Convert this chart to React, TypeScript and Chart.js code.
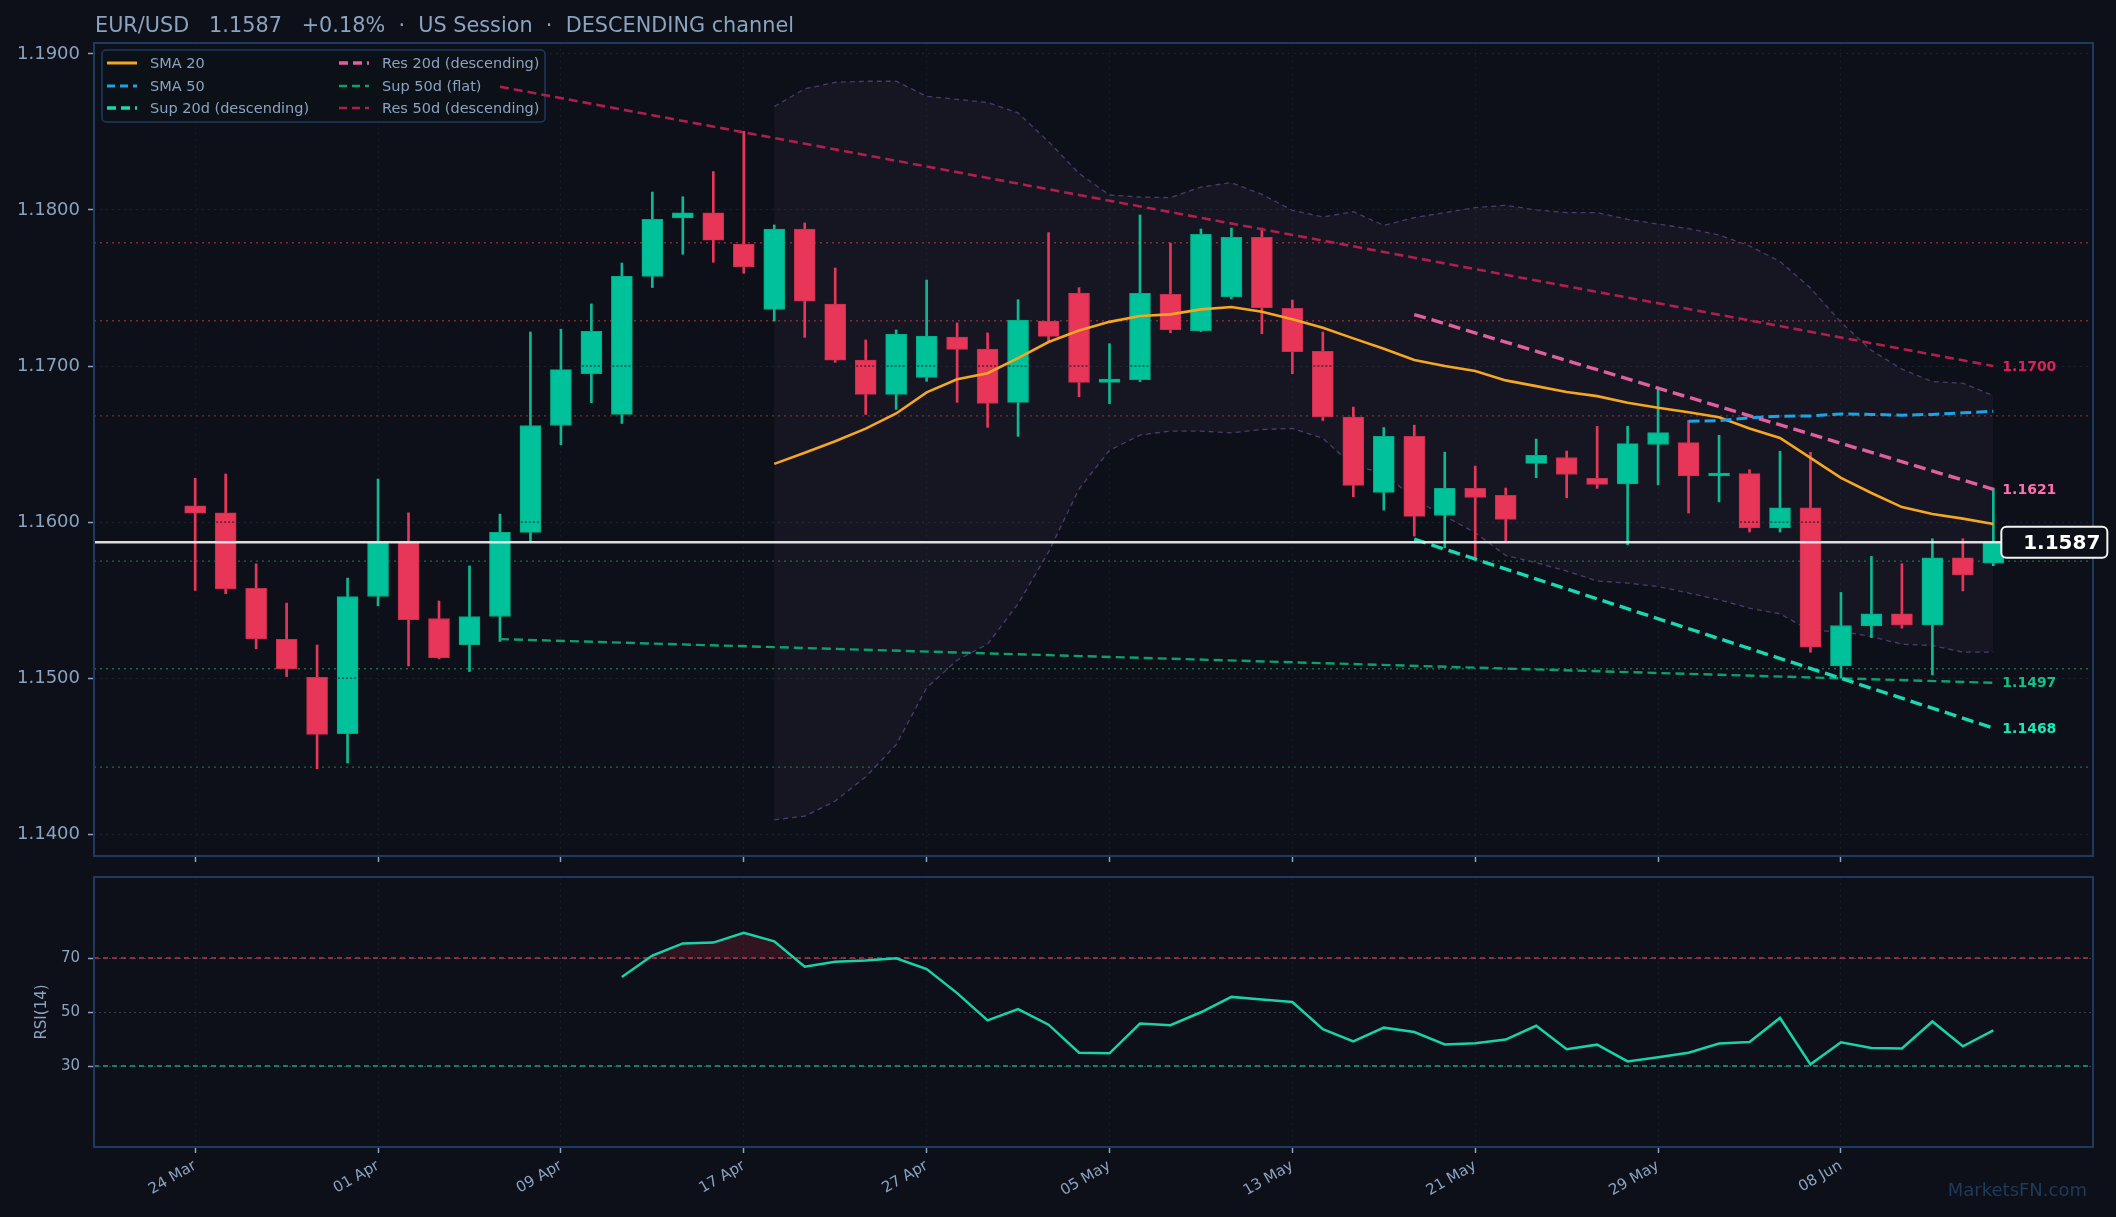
import { useEffect, useRef } from "react"
import { Chart, registerables } from "chart.js"

Chart.register(...registerables)
Chart.defaults.font.family = '"DejaVu Sans", sans-serif'

const BG = "#0d1018"
const TEXT = "#8aa3c0"
const FRAME = "#1e3a5f"
const UP = "#00c29a"
const DOWN = "#e83658"
const SMA20_C = "#f5a623"
const SMA50_C = "#1aa3e8"
const RES20_C = "#e0609e"
const SUP20_C = "#19d9b0"
const RES50_C = "#b01e4e"
const SUP50_C = "#0e9f6e"
const BAND_C = "#4a3a6c"
const RSI_C = "#19d3a6"

// daily candles, index 0 = 24 Mar
const opens = [
  1.16104, 1.16059, 1.15575, 1.15248, 1.15005, 1.14644, 1.15523, 1.15873, 1.15382, 1.15214,
  1.15395, 1.15934, 1.16619, 1.16951, 1.1669, 1.17574, 1.17949, 1.17981, 1.17782, 1.17363,
  1.17878, 1.17397, 1.17038, 1.16818, 1.16927, 1.17186, 1.17109, 1.16767, 1.17288, 1.17468,
  1.16895, 1.16912, 1.17459, 1.17226, 1.17444, 1.17824, 1.17369, 1.17094, 1.16673, 1.1619,
  1.16549, 1.16042, 1.16216, 1.16171, 1.16376, 1.16414, 1.1628, 1.16244, 1.16497, 1.16509,
  1.16295, 1.1631, 1.15962, 1.16092, 1.15078, 1.15335, 1.15412, 1.15341, 1.15771, 1.15737,
]
const highs = [
  1.16281, 1.16308, 1.15732, 1.15481, 1.15212, 1.15641, 1.16276, 1.16059, 1.15494, 1.15719,
  1.16051, 1.17218, 1.17236, 1.17398, 1.1766, 1.18115, 1.18085, 1.18246, 1.18504, 1.17904,
  1.17917, 1.17628, 1.17167, 1.17231, 1.17551, 1.17276, 1.17212, 1.17425, 1.17855, 1.17502,
  1.17143, 1.17968, 1.17788, 1.17878, 1.17884, 1.17884, 1.17423, 1.17218, 1.16737, 1.16606,
  1.16621, 1.16448, 1.16359, 1.16218, 1.16532, 1.16455, 1.16613, 1.16614, 1.16856, 1.16651,
  1.16556, 1.16336, 1.16454, 1.16447, 1.15549, 1.1578, 1.15733, 1.15893, 1.15893, 1.16218,
]
const lows = [
  1.15562, 1.15541, 1.15188, 1.1501, 1.14419, 1.14456, 1.15463, 1.15078, 1.15123, 1.15042,
  1.15235, 1.15876, 1.16496, 1.16765, 1.16632, 1.17503, 1.17716, 1.17665, 1.17594, 1.17288,
  1.17184, 1.17024, 1.1669, 1.16722, 1.16902, 1.16767, 1.16607, 1.16549, 1.17162, 1.16803,
  1.16759, 1.169, 1.17213, 1.1722, 1.17431, 1.17207, 1.16951, 1.16651, 1.16162, 1.16077,
  1.1591, 1.15835, 1.15771, 1.15878, 1.16284, 1.16156, 1.16216, 1.15855, 1.16238, 1.16058,
  1.16129, 1.15936, 1.15936, 1.15166, 1.14999, 1.1526, 1.1532, 1.1502, 1.15559, 1.1572,
]
const closes = [
  1.16057, 1.15573, 1.15253, 1.1506, 1.14639, 1.15523, 1.15873, 1.15374, 1.15131, 1.15395,
  1.15934, 1.16619, 1.16977, 1.17223, 1.17574, 1.1794, 1.17981, 1.17806, 1.17635, 1.17878,
  1.17415, 1.17038, 1.16818, 1.17205, 1.17192, 1.17107, 1.16761, 1.17295, 1.1719, 1.16895,
  1.16917, 1.17465, 1.17233, 1.17844, 1.17824, 1.17374, 1.17092, 1.16675, 1.16235, 1.16549,
  1.16036, 1.16216, 1.16158, 1.16017, 1.16427, 1.16305, 1.16241, 1.16503, 1.16574, 1.16295,
  1.1631, 1.15962, 1.16092, 1.15198, 1.15337, 1.15412, 1.15341, 1.15771, 1.15662, 1.1587,
]

const tickPositions = [0, 6, 12, 18, 24, 30, 36, 42, 48, 54]
const tickLabels = ["24 Mar", "01 Apr", "09 Apr", "17 Apr", "27 Apr", "05 May", "13 May", "21 May", "29 May", "08 Jun"]
const priceTicks = [1.14, 1.15, 1.16, 1.17, 1.18, 1.19]

const resistanceLevels = [1.1779, 1.1729, 1.1668]
const supportLevels = [1.1575, 1.1506, 1.1443]
const lastPrice = 1.1587

// Bollinger band (20) from index 19
const bandStart = 19
const bbUpper = [
  1.18663, 1.18776, 1.18818, 1.18825, 1.18825, 1.18728, 1.18709, 1.18689, 1.18622, 1.18438,
  1.18234, 1.18096, 1.18083, 1.18079, 1.18147, 1.18175, 1.181, 1.17998, 1.17955, 1.17989,
  1.17901, 1.17951, 1.17983, 1.18015, 1.1803, 1.18, 1.17983, 1.17983, 1.1794, 1.1791,
  1.1788, 1.1784, 1.1777, 1.1767, 1.175, 1.1728, 1.171, 1.1698, 1.169, 1.1689, 1.1681,
]
const bbLower = [
  1.14092, 1.14115, 1.14212, 1.14367, 1.14573, 1.14938, 1.15115, 1.15218, 1.15476, 1.15808,
  1.16212, 1.1646, 1.16557, 1.16583, 1.16583, 1.16572, 1.16593, 1.166, 1.16536, 1.16359,
  1.16316, 1.16145, 1.16038, 1.15931, 1.15786, 1.15739, 1.15686, 1.15622, 1.15609, 1.15587,
  1.15545, 1.15502, 1.15448, 1.15412, 1.15303, 1.15299, 1.15266, 1.15217, 1.15209, 1.15166, 1.15166,
]

const sma20Start = 19
const sma20 = [
  1.16373, 1.16444, 1.16518, 1.16599, 1.16696, 1.16831, 1.16915, 1.16954, 1.17051, 1.17154,
  1.17228, 1.17283, 1.17321, 1.17331, 1.17363, 1.17378, 1.17348, 1.17299, 1.17245, 1.17177,
  1.17111, 1.17038, 1.17, 1.16968, 1.16908, 1.16871, 1.16833, 1.16807, 1.16764, 1.16732,
  1.16704, 1.16672, 1.16599, 1.16539, 1.16411, 1.16283, 1.16186, 1.16096, 1.16052, 1.16022, 1.15987,
]
const sma50Start = 49
const sma50 = [1.16646, 1.1665, 1.16668, 1.16678, 1.1668, 1.16693, 1.1669, 1.16685, 1.1669, 1.167, 1.1671]

// channel lines: [index, price]
const res50d = [[10, 1.1879], [59, 1.17]]
const sup50d = [[10, 1.1525], [59, 1.1497]]
const res20d = [[40, 1.1733], [59, 1.1621]]
const sup20d = [[40, 1.1589], [59, 1.1468]]

const rsiStart = 14
const rsi = [
  63.0, 70.9, 75.4, 75.7, 79.3, 76.2, 66.8, 68.6, 69.1, 69.9,
  65.9, 57.0, 46.9, 51.1, 45.3, 34.9, 34.7, 45.7, 45.1, 49.9,
  55.6, 54.6, 53.7, 43.6, 39.1, 44.2, 42.6, 38.0, 38.4, 39.8,
  44.9, 36.2, 37.9, 31.7, 33.2, 34.9, 38.3, 38.9, 47.8, 30.6,
  38.8, 36.7, 36.5, 46.5, 37.3, 43.2,
]
const rsiTicks = [30, 50, 70]
const rsiLevels = [70, 30]

const X_MIN = -3.32
const X_MAX = 62.27

const series = (start: number, values: number[]) => values.map((v, i) => ({ x: start + i, y: v }))
const segment = (pts: number[][]) => pts.map(([x, y]) => ({ x, y }))
const font = (size: number, bold = false) => `${bold ? "bold " : ""}${size}px "DejaVu Sans", sans-serif`

const legendItems = [
  { label: "SMA 20", color: SMA20_C, dash: [] as number[], width: 3 },
  { label: "SMA 50", color: SMA50_C, dash: [8, 5], width: 3 },
  { label: "Sup 20d (descending)", color: SUP20_C, dash: [9, 5], width: 3.5 },
  { label: "Res 20d (descending)", color: RES20_C, dash: [9, 5], width: 3.5 },
  { label: "Sup 50d (flat)", color: SUP50_C, dash: [8, 5], width: 2.5 },
  { label: "Res 50d (descending)", color: RES50_C, dash: [8, 5], width: 2.5 },
]

const endLabels = [
  { line: res50d, color: "#d8245a" },
  { line: res20d, color: "#ff6fb0" },
  { line: sup50d, color: "#12c184" },
  { line: sup20d, color: "#1de9b6" },
]

const hLine = (ctx: any, a: any, py: number) => {
  ctx.beginPath()
  ctx.moveTo(a.left, py)
  ctx.lineTo(a.right, py)
  ctx.stroke()
}

// keep axis label overhang from pushing the plot area around
const noPad = (s: any) => {
  s.paddingTop = 0
  s.paddingBottom = 0
  s.paddingLeft = 0
  s.paddingRight = 0
}

const mainOverlay = {
  id: "mainOverlay",
  beforeDatasetsDraw(chart: any) {
    const { ctx, chartArea: a, scales } = chart
    const y = scales.y
    ctx.save()
    ctx.lineWidth = 1.3
    ctx.setLineDash([2, 4])
    ctx.strokeStyle = "#7c2a2c"
    resistanceLevels.forEach((v) => hLine(ctx, a, y.getPixelForValue(v)))
    ctx.strokeStyle = "#1c6b47"
    supportLevels.forEach((v) => hLine(ctx, a, y.getPixelForValue(v)))
    ctx.restore()

    // legend
    ctx.save()
    ctx.beginPath()
    ctx.roundRect(102, 50, 443, 72, 4)
    ctx.fillStyle = "rgba(13,16,24,0.85)"
    ctx.fill()
    ctx.lineWidth = 1.5
    ctx.strokeStyle = FRAME
    ctx.stroke()
    ctx.font = font(14.5)
    ctx.textBaseline = "middle"
    const colX = [107, 339]
    const rowY = [63, 86, 108]
    legendItems.forEach((item, i) => {
      const cx = colX[Math.floor(i / 3)]
      const cy = rowY[i % 3]
      ctx.strokeStyle = item.color
      ctx.lineWidth = item.width
      ctx.setLineDash(item.dash)
      ctx.beginPath()
      ctx.moveTo(cx, cy)
      ctx.lineTo(cx + 30, cy)
      ctx.stroke()
      ctx.fillStyle = TEXT
      ctx.fillText(item.label, cx + 43, cy + 1)
    })
    ctx.restore()
  },
  afterDatasetDraw(chart: any, args: any) {
    if (args.index !== 3) return
    const { ctx, scales } = chart
    ctx.save()
    ctx.strokeStyle = "rgba(8,10,16,0.9)"
    ctx.lineWidth = 1
    ctx.setLineDash([2, 2])
    args.meta.data.forEach((el: any) => {
      const { x, y, base, width } = el.getProps(["x", "y", "base", "width"], true)
      const top = Math.min(y, base)
      const bottom = Math.max(y, base)
      priceTicks.forEach((v) => {
        const py = scales.y.getPixelForValue(v)
        if (py > top + 1 && py < bottom - 1) {
          ctx.beginPath()
          ctx.moveTo(x - width / 2 + 1, py)
          ctx.lineTo(x + width / 2 - 1, py)
          ctx.stroke()
        }
      })
    })
    ctx.restore()
  },
  afterDatasetsDraw(chart: any) {
    const { ctx, chartArea: a, scales } = chart
    const { x, y } = scales
    ctx.save()
    ctx.strokeStyle = "rgba(240,240,240,0.92)"
    ctx.lineWidth = 2.5
    hLine(ctx, a, y.getPixelForValue(lastPrice))

    const lx = x.getPixelForValue(closes.length - 1) + 9
    ctx.font = font(14, true)
    ctx.textBaseline = "middle"
    ctx.textAlign = "left"
    endLabels.forEach(({ line, color }) => {
      const [, v] = line[line.length - 1]
      ctx.fillStyle = color
      ctx.fillText(v.toFixed(4), lx, y.getPixelForValue(v) + 1)
    })
    ctx.restore()
  },
  afterDraw(chart: any) {
    const { ctx, chartArea: a, scales } = chart
    const { x, y } = scales
    ctx.save()
    ctx.strokeStyle = FRAME
    ctx.lineWidth = 2
    ctx.strokeRect(a.left, a.top, a.right - a.left, a.bottom - a.top)

    // last price tag, on top of the frame
    const py = y.getPixelForValue(lastPrice)
    const lx = x.getPixelForValue(closes.length - 1) + 9
    ctx.beginPath()
    ctx.roundRect(lx - 1, py - 15.5, 106, 31, 5)
    ctx.fillStyle = BG
    ctx.fill()
    ctx.strokeStyle = "#f2f2f2"
    ctx.lineWidth = 2
    ctx.stroke()
    ctx.fillStyle = "#ffffff"
    ctx.font = font(20, true)
    ctx.textAlign = "right"
    ctx.textBaseline = "middle"
    ctx.fillText(lastPrice.toFixed(4), lx + 98, py + 1)

    ctx.fillStyle = TEXT
    ctx.font = font(20.8)
    ctx.textAlign = "left"
    ctx.textBaseline = "alphabetic"
    ctx.fillText("EUR/USD   1.1587   +0.18%  ·  US Session  ·  DESCENDING channel", 95, 32)
    ctx.restore()
  },
}

const rsiOverlay = {
  id: "rsiOverlay",
  beforeDatasetsDraw(chart: any) {
    const { ctx, chartArea: a, scales } = chart
    ctx.save()
    ctx.lineWidth = 1.5
    ctx.setLineDash([5, 4])
    rsiLevels.forEach((v, i) => {
      ctx.strokeStyle = i === 0 ? "#c0304a" : "#12a37d"
      hLine(ctx, a, scales.y.getPixelForValue(v))
    })
    ctx.restore()
  },
  afterDraw(chart: any) {
    const { ctx, chartArea: a } = chart
    ctx.save()
    ctx.strokeStyle = FRAME
    ctx.lineWidth = 2
    ctx.strokeRect(a.left, a.top, a.right - a.left, a.bottom - a.top)
    ctx.fillStyle = "#1f3b5c"
    ctx.font = font(18)
    ctx.textAlign = "right"
    ctx.textBaseline = "alphabetic"
    ctx.fillText("MarketsFN.com", 2087, 326)
    ctx.restore()
  },
}

const xAxis = (height: number, ticks: any) => ({
  type: "linear",
  min: X_MIN,
  max: X_MAX,
  offset: false,
  afterBuildTicks: (s: any) => {
    s.ticks = tickPositions.map((v) => ({ value: v }))
  },
  afterFit: (s: any) => {
    s.height = height
    noPad(s)
  },
  ticks,
  grid: { color: "#161c27", offset: false, tickLength: 6, tickColor: TEXT, tickWidth: 1.5 },
  border: { display: false, dash: [2, 4] },
})

export default function App() {
  const mainRef = useRef<HTMLCanvasElement>(null)
  const rsiRef = useRef<HTMLCanvasElement>(null)

  useEffect(() => {
    if (!mainRef.current || !rsiRef.current) return

    const bodyColors = closes.map((c, i) => (c >= opens[i] ? UP : DOWN))
    const bodyBorders = closes.map((c, i) => (c >= opens[i] ? "#07a884" : "#c92f50"))
    const wickColors = closes.map((c, i) => (c >= opens[i] ? "#0fb892" : "#e8365a"))

    const main = new Chart(mainRef.current, {
      type: "bar",
      data: {
        datasets: [
          {
            type: "line",
            data: series(bandStart, bbUpper),
            borderColor: BAND_C,
            borderWidth: 1.3,
            borderDash: [5, 4],
            pointRadius: 0,
            fill: "+1",
            backgroundColor: "rgba(140,110,175,0.07)",
            order: 20,
          },
          {
            type: "line",
            data: series(bandStart, bbLower),
            borderColor: BAND_C,
            borderWidth: 1.3,
            borderDash: [5, 4],
            pointRadius: 0,
            fill: false,
            order: 21,
          },
          {
            type: "bar",
            data: lows.map((l, i) => ({ x: i, y: [l, highs[i]] })),
            backgroundColor: wickColors,
            borderWidth: 0,
            barThickness: 2,
            grouped: false,
            order: 11,
          },
          {
            type: "bar",
            data: opens.map((o, i) => ({ x: i, y: [o, closes[i]] })),
            backgroundColor: bodyColors,
            borderColor: bodyBorders,
            borderWidth: 1,
            borderSkipped: false,
            barThickness: 21,
            minBarLength: 3,
            grouped: false,
            order: 10,
          },
          {
            type: "line",
            data: segment(res50d),
            borderColor: RES50_C,
            borderWidth: 2.6,
            borderDash: [9, 5],
            pointRadius: 0,
            order: 6,
          },
          {
            type: "line",
            data: segment(sup50d),
            borderColor: SUP50_C,
            borderWidth: 2.4,
            borderDash: [9, 5],
            pointRadius: 0,
            order: 6,
          },
          {
            type: "line",
            data: series(sma20Start, sma20),
            borderColor: SMA20_C,
            borderWidth: 2.6,
            pointRadius: 0,
            order: 4,
          },
          {
            type: "line",
            data: series(sma50Start, sma50),
            borderColor: SMA50_C,
            borderWidth: 3,
            borderDash: [11, 5],
            pointRadius: 0,
            order: 3,
          },
          {
            type: "line",
            data: segment(res20d),
            borderColor: RES20_C,
            borderWidth: 3.4,
            borderDash: [12, 6],
            pointRadius: 0,
            order: 2,
          },
          {
            type: "line",
            data: segment(sup20d),
            borderColor: SUP20_C,
            borderWidth: 3.4,
            borderDash: [12, 6],
            pointRadius: 0,
            order: 2,
          },
        ],
      } as any,
      options: {
        animation: false,
        responsive: true,
        maintainAspectRatio: false,
        events: [],
        layout: { padding: { left: 0, right: 23, top: 43, bottom: 0 } },
        plugins: { legend: { display: false }, tooltip: { enabled: false } },
        scales: {
          x: xAxis(14, { display: false }),
          y: {
            type: "linear",
            min: 1.1386,
            max: 1.1907,
            beginAtZero: false,
            afterBuildTicks: (s: any) => {
              s.ticks = priceTicks.map((v) => ({ value: v }))
            },
            afterFit: (s: any) => {
              s.width = 94
              noPad(s)
            },
            ticks: {
              color: TEXT,
              font: { size: 18 },
              padding: 8,
              callback: (v: any) => Number(v).toFixed(4),
            },
            grid: { color: "#1a2130", tickLength: 6, tickColor: TEXT, tickWidth: 1.5 },
            border: { display: false, dash: [2, 4] },
          },
        },
      } as any,
      plugins: [mainOverlay],
    })

    const rsiChart = new Chart(rsiRef.current, {
      type: "line",
      data: {
        datasets: [
          {
            data: series(rsiStart, rsi),
            borderColor: RSI_C,
            borderWidth: 2.5,
            pointRadius: 0,
            fill: { target: { value: 70 }, above: "rgba(200,40,70,0.2)", below: "rgba(0,0,0,0)" },
          },
        ],
      } as any,
      options: {
        animation: false,
        responsive: true,
        maintainAspectRatio: false,
        events: [],
        layout: { padding: { left: 0, right: 23, top: 7, bottom: 0 } },
        plugins: { legend: { display: false }, tooltip: { enabled: false } },
        scales: {
          x: xAxis(70, {
            autoSkip: false,
            minRotation: 30,
            maxRotation: 30,
            color: TEXT,
            font: { size: 15 },
            padding: 4,
            callback: (v: any) => tickLabels[tickPositions.indexOf(Number(v))] ?? "",
          }),
          y: {
            min: 0,
            max: 100,
            afterBuildTicks: (s: any) => {
              s.ticks = rsiTicks.map((v) => ({ value: v }))
            },
            afterFit: (s: any) => {
              s.width = 94
              noPad(s)
            },
            ticks: { color: TEXT, font: { size: 15 }, padding: 8 },
            grid: { color: "#353d4b", tickLength: 6, tickColor: TEXT, tickWidth: 1.5 },
            border: { display: false, dash: [2, 3] },
            title: {
              display: true,
              text: "RSI(14)",
              color: TEXT,
              font: { size: 15 },
              padding: { top: 33, bottom: 0 },
            },
          },
        },
      } as any,
      plugins: [rsiOverlay],
    })

    return () => {
      main.destroy()
      rsiChart.destroy()
    }
  }, [])

  return (
    <div
      style={{
        position: "fixed",
        left: 0,
        top: 0,
        width: 2116,
        height: 1217,
        background: BG,
        overflow: "hidden",
      }}
    >
      <div style={{ position: "absolute", left: 0, top: 0, width: 2116, height: 870 }}>
        <canvas ref={mainRef} />
      </div>
      <div style={{ position: "absolute", left: 0, top: 870, width: 2116, height: 347 }}>
        <canvas ref={rsiRef} />
      </div>
    </div>
  )
}
